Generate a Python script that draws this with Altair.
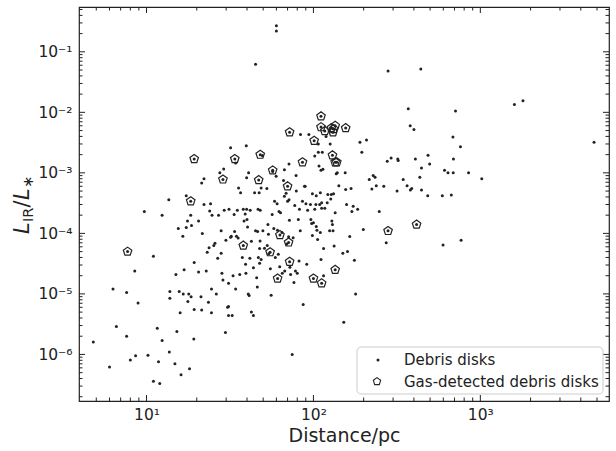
import altair as alt
import pandas as pd

# ---------------- data ----------------
debris_dist = [
    60, 60, 45, 280, 440, 1600, 1800, 370, 710, 4800, 380, 400, 685, 760, 690,
    4.8, 6, 6.3, 6.6, 7.6, 7.6, 8.0, 8.6, 8.5, 8.9, 9.7, 10.2, 11, 11, 11.6, 11.8, 12, 12.4, 12.4,
    13.6, 13.8, 13.8, 13.7, 14.8, 15, 15.2, 15.5, 15.7, 15.9, 16.1, 16.5, 16.6, 16.8, 17.3, 17.3,
    17.6, 17.7, 17.9, 18.1, 18.4, 18.5, 18.6, 19.3, 19.3, 19.2,
    20.5, 20.5, 21.2, 21.4, 21.4, 21.6, 22.1, 22.1, 23.1, 22.8, 23.7, 23.5, 23.9, 24.2, 24.5, 24.5,
    24.7, 25.3, 25.7, 26.2, 26.7, 27.0, 27.5, 28.0, 28.0, 28.3, 28.7, 29.0, 29.2, 29.9, 29.7, 30.6,
    31, 31, 31, 31.2, 31.9, 31.9, 32.2, 32.6, 33, 33.5, 33.7, 34.2, 34.2, 34.6, 35, 35.4, 35.6, 36.2,
    36.6, 37.5, 38, 38.4, 39, 39.2, 39.4, 39.6, 39.8, 39.8, 40, 40.3, 40.7, 40.9, 41.2, 41.6, 41.8,
    42.5, 42.5,
    43.7, 43.7, 44.4, 45, 45.7, 46.1, 46.3, 46.6, 46.8, 47.3, 47.6, 47.6, 47.9, 48, 48.6, 48.6, 49.4,
    49.8, 50.9, 52.6, 52.9, 53.4, 53.8, 54, 55.2, 55.8, 56.6, 57, 57.9, 58.5, 59.1, 59.8, 60.6, 60.9,
    61.6, 62.2, 62.8, 63.5, 64.8, 65.1, 66.2, 67, 67, 67.3, 68.6, 69.3, 70, 71, 71.4, 71.4, 71.8,
    72.3, 73, 74.6, 75.6, 76.4, 77.3, 78, 78.7, 79, 80, 81.2, 82, 82.5, 83.4, 83.7, 86, 86.8, 88.4,
    89.2, 90.2, 91.2, 92.3, 93.9, 96, 96.5, 97.6, 98.6, 98.6, 100,
    101.8, 101.8, 103.4, 104, 104, 105, 106, 107, 107, 108, 109, 110, 110, 111, 111, 112, 112, 113,
    114, 115, 115, 117, 119, 121, 122, 125, 126, 127, 128, 129, 130, 131, 132, 133, 135, 137, 139,
    142, 150, 152, 155, 156, 158, 160, 165, 168, 170, 173, 176, 179, 184, 190, 195, 199, 208, 216,
    224, 228, 234, 238, 248, 264, 273, 277, 292,
    317, 320, 322, 345, 364, 381, 388, 408, 434, 444, 444, 484, 486, 497, 592, 598, 610, 640, 670,
    688, 767, 850, 1020,
]
debris_lir = [
    0.27, 0.22, 0.062, 0.048, 0.052, 0.0135, 0.0155, 0.0115, 0.0105, 0.0032, 0.006, 0.0052, 0.0039, 0.0027, 0.0017,
    1.6e-6, 6.2e-7, 1.2e-5, 2.9e-6, 1.05e-5, 2.0e-6, 8.1e-7, 9.5e-7, 2.4e-5, 7.1e-6, 2.3e-4, 9.7e-7, 4.2e-5, 3.6e-7, 2.7e-6, 7.6e-7, 3.3e-7, 2.0e-4, 1.7e-6,
    3.6e-4, 1.1e-5, 8.5e-6, 1.1e-6, 7.0e-7, 2.1e-5, 2.4e-6, 1.2e-4, 1.1e-5, 4.9e-6, 4.6e-7, 9e-5, 1.0e-5, 2.5e-5, 4.2e-4, 1.25e-4,
    1.6e-4, 7.5e-6, 1.0e-5, 5.8e-7, 2.0e-4, 9e-6, 1.35e-4, 3.3e-5, 5.5e-6, 1.8e-6,
    1.6e-4, 2.3e-5, 9e-6, 6.8e-4, 5.4e-6, 1.0e-4, 8e-4, 3e-4, 4.9e-5, 2.4e-5, 5.8e-5, 7.3e-6, 2.35e-4, 3.1e-4, 1.2e-5, 4.9e-6,
    2.0e-4, 6.3e-5, 6.9e-5, 1.0e-5, 3.9e-5, 2.0e-4, 1.0e-3, 1.1e-4, 4.7e-5, 2.2e-5, 1.7e-5, 1.16e-3, 2.4e-4, 7.7e-5, 2.3e-6, 6e-6,
    6.2e-6, 1.5e-5, 4.4e-6, 2.5e-4, 2.6e-3, 8.6e-5, 9e-5, 4.4e-6, 2e-5, 2.05e-4, 1.07e-4, 1.45e-3, 1.2e-5, 9e-5, 2.4e-4, 8.4e-5, 5.6e-4, 2.1e-5,
    4.7e-4, 4e-5, 2.5e-4, 1.6e-4, 2.1e-4, 3.1e-5, 2.2e-5, 2.8e-3, 8.3e-4, 2.5e-4, 1.7e-4, 1.27e-4, 1.0e-5, 1.0e-3, 9.4e-6, 3.9e-5, 2.4e-4,
    5e-6, 7.4e-5,
    4.4e-6, 2.7e-5, 4.7e-4, 1.1e-4, 1.85e-5, 1.3e-5, 1.07e-4, 2.5e-4, 4e-5, 4.7e-4, 5.6e-5, 3.2e-5, 7.5e-5, 2.4e-4, 5.6e-4, 3.7e-5, 1.93e-3,
    1.1e-4, 5.7e-5, 5.5e-4, 6.3e-5, 1.4e-4, 9.7e-5, 4.6e-5, 2.6e-5, 9.5e-6, 2.05e-4, 1.05e-3, 1.2e-4, 3.4e-4, 4e-5, 8.8e-4, 3.1e-4, 1.13e-4,
    4.5e-5, 2.3e-4, 2.8e-5, 2.2e-4, 1.03e-4, 2.2e-5, 7.5e-4, 4.1e-4, 1.13e-3, 2.4e-5, 4.6e-4, 6.7e-5, 3.4e-4, 8.8e-5, 1.4e-3, 3.6e-4, 1.65e-4,
    2.75e-5, 2.1e-5, 1e-6, 8.5e-5, 1.55e-5, 2.9e-4, 2.4e-5, 9e-4, 5e-4, 2.2e-5, 1.7e-4, 3.5e-5, 2.5e-4, 1.1e-4, 4.3e-3, 3.4e-4, 6.7e-6, 6e-4,
    6e-4, 3.1e-4, 3.1e-5, 2.4e-4, 4.3e-3, 3e-4, 1.7e-4, 1.45e-4, 9.2e-5, 4.5e-4, 1.5e-4,
    2.5e-4, 1.9e-3, 3e-4, 4.2e-4, 1.3e-4, 1.13e-4, 7.9e-5, 3e-3, 2.2e-3, 1.3e-3, 3e-4, 4.7e-4, 1.03e-4, 3.7e-5, 1.1e-3, 3.2e-4, 2.6e-4, 2.2e-3,
    1.15e-3, 2e-5, 5.6e-5, 2.6e-4, 4e-3, 3.2e-4, 4.4e-4, 1.1e-4, 3e-3, 3.7e-4, 4.4e-4, 1.6e-4, 1.4e-4, 1.1e-4, 4.5e-4, 6.2e-5, 2.2e-4, 9.7e-4, 1.0e-3,
    6.1e-4, 4.7e-5, 3.4e-6, 1e-3, 5.3e-4, 3e-4, 5e-5, 8.9e-5, 5.5e-4, 2.3e-4, 2.8e-4, 3.6e-5, 1e-5, 2.5e-4, 3.2e-3, 2.2e-3, 1.16e-4, 3.5e-3, 7.8e-4,
    5.4e-4, 9e-4, 8.5e-4, 6.1e-4, 2.3e-4, 6e-4, 7e-5, 1.56e-3, 1.76e-3,
    5e-4, 1.7e-3, 1.6e-3, 7.8e-4, 6.1e-4, 5.2e-4, 5.5e-4, 1.7e-3, 8.5e-4, 1.2e-3, 5.2e-4, 4.2e-4, 1.95e-3, 1.4e-3, 4.2e-4, 6.4e-5, 1.1e-3, 1.0e-3, 4.3e-4,
    1.0e-3, 7.7e-5, 1.0e-3, 8e-4,
]
gas_dist = [7.7, 19.3, 18.4, 28.7, 33.8, 38, 48, 47, 57, 55, 61, 63, 70, 71, 72, 72, 86, 101, 100,
            111, 111, 117, 112, 130, 128, 132, 135, 131, 135, 138, 156, 135, 280, 415]
gas_lir = [5.0e-5, 1.7e-3, 3.4e-4, 7.8e-4, 1.7e-3, 6.3e-5, 2.0e-3, 7.6e-4, 1.1e-3, 4.9e-5, 1.8e-5, 9.4e-5,
           6e-4, 7.1e-5, 4.7e-3, 3.4e-5, 1.5e-3, 3.4e-3, 1.8e-5, 8.6e-3, 5.7e-3, 4.9e-3, 1.5e-5, 1.95e-3,
           5.5e-3, 5.3e-3, 6.0e-3, 4.7e-3, 1.5e-3, 1.5e-3, 5.5e-3, 2.5e-5, 1.1e-4, 1.4e-4]

x_major = [10, 100, 1000]
x_minor = [5, 6, 7, 8, 9, 20, 30, 40, 50, 60, 70, 80, 90, 200, 300, 400, 500, 600, 700, 800, 900,
           2000, 3000, 4000, 5000]
y_major = [1e-6, 1e-5, 1e-4, 1e-3, 1e-2, 1e-1]
y_minor = [m * d for d in [1e-7, 1e-6, 1e-5, 1e-4, 1e-3, 1e-2, 1e-1] for m in range(2, 10)
           if 1.7e-7 < m * d < 0.55]
legend_labels = ["Debris disks", "Gas-detected debris disks"]

W, H = 530, 394
FONT = "DejaVu Sans"
INK = "#222222"
PENTAGON = "M0,-1 L0.951,-0.309 L0.588,0.809 L-0.588,0.809 L-0.951,-0.309 Z"

xscale = alt.Scale(type="log", domain=[3.94, 5900], nice=False)
yscale = alt.Scale(type="log", domain=[1.7e-7, 0.55], nice=False)

debris = pd.DataFrame({"dist": debris_dist + gas_dist, "lir": debris_lir + gas_lir})
gas = pd.DataFrame({"dist": gas_dist, "lir": gas_lir})

x_expr = ("round(log(datum.value)/LN10) == 1 ? '10¹' : "
          "round(log(datum.value)/LN10) == 2 ? '10²' : '10³'")
y_expr = ("round(log(datum.value)/LN10) == -1 ? '10⁻¹' : "
          "round(log(datum.value)/LN10) == -2 ? '10⁻²' : "
          "round(log(datum.value)/LN10) == -3 ? '10⁻³' : "
          "round(log(datum.value)/LN10) == -4 ? '10⁻⁴' : "
          "round(log(datum.value)/LN10) == -5 ? '10⁻⁵' : '10⁻⁶'")

x_axis = alt.Axis(values=x_major, labelExpr=x_expr, ticks=False, domain=False, grid=False,
                  labelFontSize=15.5, labelFont=FONT, labelColor=INK, labelPadding=6,
                  title="Distance/pc", titleFont=FONT, titleFontSize=19, titleFontWeight="normal",
                  titleColor=INK, titlePadding=4)
y_axis = alt.Axis(values=y_major, labelExpr=y_expr, ticks=False, domain=False, grid=False,
                  labelFontSize=15.5, labelFont=FONT, labelColor=INK, labelPadding=7, title=None)

points = alt.Chart(debris).mark_point(filled=True, shape="circle", size=9, color=INK, opacity=1).encode(
    x=alt.X("dist:Q", scale=xscale, axis=x_axis),
    y=alt.Y("lir:Q", scale=yscale, axis=y_axis),
)

pentagons = alt.Chart(gas).mark_point(shape=PENTAGON, size=80, filled=False, stroke=INK,
                                      strokeWidth=1.2, opacity=1).encode(
    x=alt.X("dist:Q", scale=xscale, axis=x_axis),
    y=alt.Y("lir:Q", scale=yscale, axis=y_axis),
)

def xticks(vals, length):
    df = pd.DataFrame({"v": vals})
    bottom = alt.Chart(df).mark_rule(color=INK, strokeWidth=1).encode(
        x=alt.X("v:Q", scale=xscale, axis=x_axis), y=alt.value(H), y2=alt.value(H - length))
    top = alt.Chart(df).mark_rule(color=INK, strokeWidth=1).encode(
        x=alt.X("v:Q", scale=xscale, axis=x_axis), y=alt.value(0), y2=alt.value(length))
    return [bottom, top]

def yticks(vals, length):
    df = pd.DataFrame({"v": vals})
    left = alt.Chart(df).mark_rule(color=INK, strokeWidth=1).encode(
        y=alt.Y("v:Q", scale=yscale, axis=y_axis), x=alt.value(0), x2=alt.value(length))
    right = alt.Chart(df).mark_rule(color=INK, strokeWidth=1).encode(
        y=alt.Y("v:Q", scale=yscale, axis=y_axis), x=alt.value(W), x2=alt.value(W - length))
    return [left, right]

tick_layers = xticks(x_major, 6) + xticks(x_minor, 3.5) + yticks(y_major, 6) + yticks(y_minor, 3.5)

one = pd.DataFrame({"a": [0]})

# y-axis title  L_IR / L_*  built from pieces (rotated)
ytitle_parts = [
    ("L", 21, "italic", -50, 227),
    ("IR", 14.5, "normal", -46, 215),
    ("/", 21, "normal", -50, 200.5),
    ("L", 21, "italic", -50, 193),
    ("∗", 14.5, "normal", -46, 181),
]
ytitle_layers = [
    alt.Chart(one).mark_text(text=t, font=FONT, fontSize=fs, fontStyle=st, angle=270, align="left",
                             baseline="alphabetic", color=INK).encode(x=alt.value(xp), y=alt.value(yp))
    for t, fs, st, xp, yp in ytitle_parts
]

legend_box = alt.Chart(one).mark_rect(fill="white", fillOpacity=0.85, stroke="#cccccc", strokeWidth=1,
                                      cornerRadius=4).encode(
    x=alt.value(278), x2=alt.value(524), y=alt.value(340), y2=alt.value(387))
legend_dot = alt.Chart(one).mark_point(filled=True, shape="circle", size=9, color=INK, opacity=1).encode(
    x=alt.value(299), y=alt.value(353))
legend_pent = alt.Chart(one).mark_point(shape=PENTAGON, size=60, filled=False, stroke=INK,
                                        strokeWidth=1.1, opacity=1).encode(x=alt.value(298), y=alt.value(374.5))
legend_t1 = alt.Chart(one).mark_text(text=legend_labels[0], font=FONT, fontSize=15, align="left",
                                     baseline="middle", color=INK).encode(x=alt.value(325), y=alt.value(352.5))
legend_t2 = alt.Chart(one).mark_text(text=legend_labels[1], font=FONT, fontSize=15, align="left",
                                     baseline="middle", color=INK).encode(x=alt.value(325), y=alt.value(374.5))

chart = alt.layer(
    points, pentagons, *tick_layers, *ytitle_layers,
    legend_box, legend_dot, legend_pent, legend_t1, legend_t2,
).properties(
    width=W, height=H,
    padding={"left": 79, "top": 7, "right": 7, "bottom": 50},
    autosize=alt.AutoSizeParams(type="none"),
    background="white",
).configure_view(stroke=INK, strokeWidth=1.2)

chart.save("out.html", embed_options={"renderer": "svg", "actions": False})
